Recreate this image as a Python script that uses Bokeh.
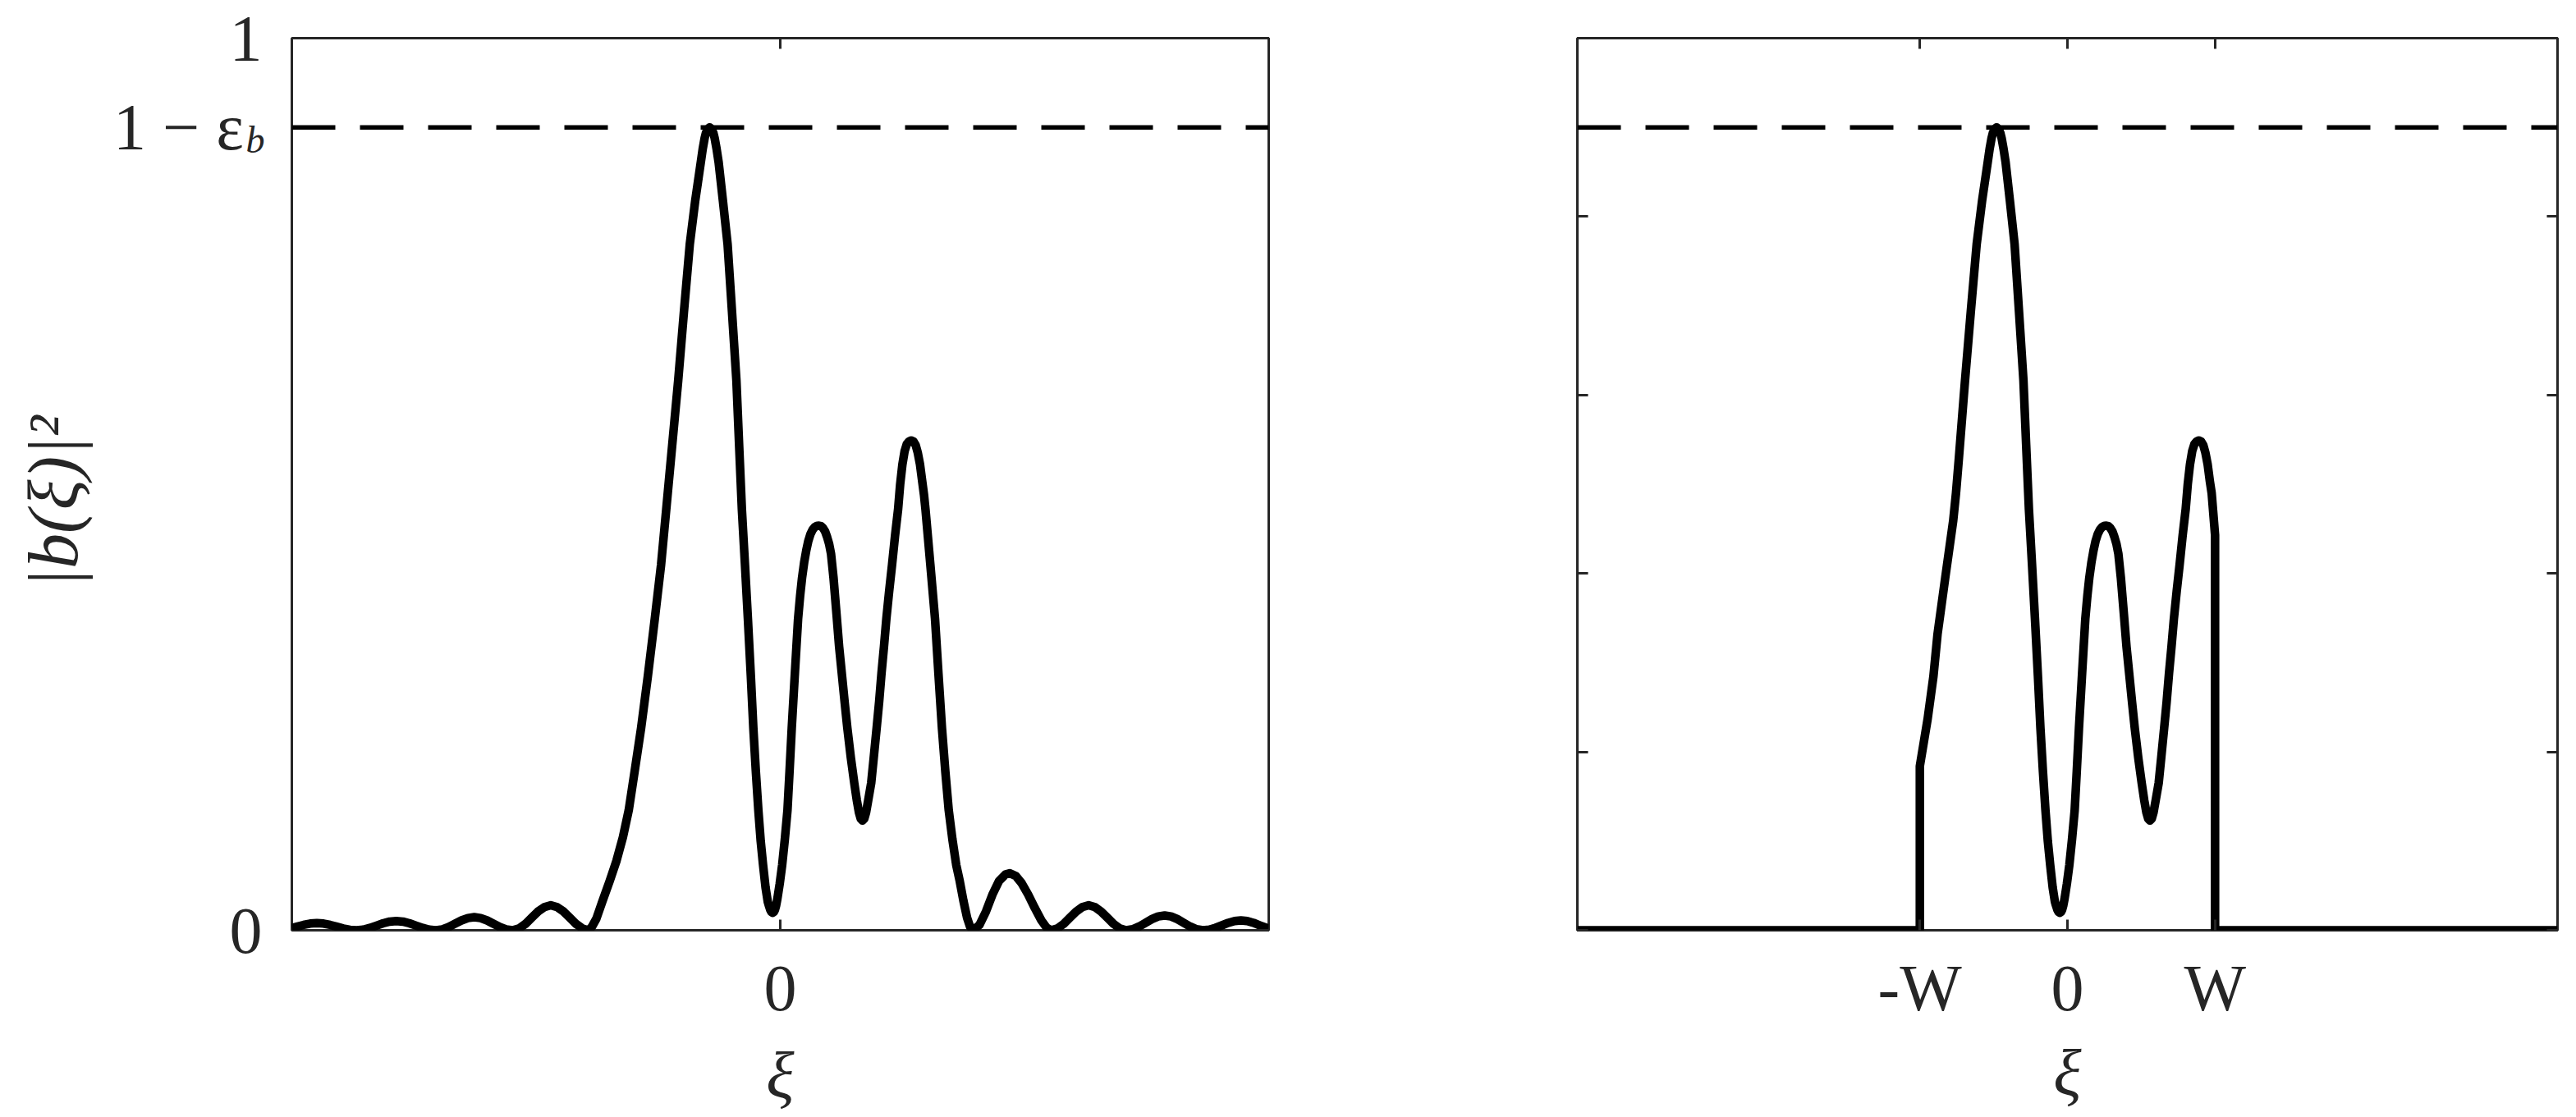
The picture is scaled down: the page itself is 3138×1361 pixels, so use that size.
from bokeh.plotting import figure
from bokeh.layouts import row
from bokeh.models import LinearAxis, FixedTicker, Range1d, Span
from bokeh.embed import file_html
from bokeh.resources import INLINE

# ---------------- data ----------------
# xi in units of W ; |b(xi)|^2
xi_full = [
    # side lobes, left
    -3.32, -3.285, -3.24, -3.195, -3.15, -3.105, -3.06, -3.015, -2.97, -2.925, -2.88,
    -2.835, -2.79, -2.745, -2.70, -2.655, -2.61, -2.565, -2.52, -2.475, -2.43, -2.385, -2.34,
    -2.297, -2.253, -2.21, -2.167, -2.123, -2.08, -2.037, -1.993, -1.95, -1.907, -1.863, -1.82,
    -1.777, -1.733, -1.69, -1.647, -1.603, -1.56, -1.517, -1.473, -1.43, -1.387, -1.343, -1.303,
    # main lobes
    -1.28, -1.25, -1.21, -1.16, -1.114, -1.07, -1.03, -0.99, -0.946, -0.90,
    -0.853, -0.81, -0.775, -0.735, -0.694, -0.655, -0.615, -0.578, -0.54, -0.527,
    -0.514, -0.505, -0.493, -0.48, -0.467, -0.455, -0.446, -0.433, -0.419, -0.39,
    -0.358, -0.328, -0.298, -0.28, -0.261, -0.24, -0.22, -0.20, -0.183, -0.166,
    -0.149, -0.133, -0.117, -0.10, -0.085, -0.076, -0.068, -0.06, -0.052, -0.044,
    -0.036, -0.028, -0.02, -0.004, 0.013, 0.031, 0.049, 0.063, 0.078, 0.10,
    0.121, 0.135, 0.148, 0.163, 0.177, 0.19, 0.205, 0.22, 0.235, 0.25,
    0.264, 0.278, 0.29, 0.305, 0.318, 0.332, 0.345, 0.362, 0.382, 0.40,
    0.42, 0.438, 0.456, 0.48, 0.503, 0.52, 0.535, 0.547, 0.559, 0.571,
    0.583, 0.598, 0.618, 0.635, 0.655, 0.672, 0.688, 0.705, 0.721, 0.74,
    0.76, 0.78, 0.801, 0.815, 0.83, 0.845, 0.86, 0.875, 0.89, 0.905,
    0.92, 0.935, 0.95, 0.965, 0.977, 0.987, 1.02, 1.052, 1.075, 1.099,
    1.122, 1.145, 1.17, 1.196, 1.22, 1.245, 1.27, 1.29, 1.31,
    # side lobes, right
    1.354, 1.398, 1.442, 1.486, 1.53, 1.56, 1.60, 1.64, 1.685, 1.73, 1.775, 1.81, 1.84,
    1.883, 1.925, 1.968, 2.011, 2.053, 2.096, 2.139, 2.181, 2.224, 2.267, 2.309, 2.352,
    2.395, 2.439, 2.482, 2.526, 2.569, 2.613, 2.656, 2.699, 2.743, 2.786, 2.830, 2.873,
    2.916, 2.959, 3.002, 3.045, 3.088, 3.131, 3.174, 3.217, 3.26, 3.303, 3.32,
]
b2_full = [
    0.0025, 0.004, 0.006, 0.0075, 0.008, 0.0075, 0.006, 0.004, 0.002, 0.0005, 0.0,
    0.0007, 0.0026, 0.0052, 0.0078, 0.0097, 0.0104, 0.0097, 0.0078, 0.0052, 0.0026, 0.0007, 0.0,
    0.001, 0.0037, 0.0074, 0.011, 0.0137, 0.0147, 0.0137, 0.011, 0.0074, 0.0037, 0.001, 0.0,
    0.0019, 0.007, 0.014, 0.021, 0.026, 0.028, 0.026, 0.021, 0.014, 0.007, 0.0019, 0.0,
    0.004, 0.013, 0.032, 0.055, 0.0775, 0.104, 0.1346, 0.178, 0.2266, 0.285,
    0.349, 0.41, 0.472, 0.543, 0.616, 0.693, 0.769, 0.818, 0.861, 0.876,
    0.888, 0.894, 0.898, 0.900, 0.898, 0.894, 0.888, 0.876, 0.861, 0.818,
    0.769, 0.693, 0.616, 0.545, 0.472, 0.41, 0.349, 0.285, 0.2266, 0.178,
    0.1346, 0.100, 0.0733, 0.048, 0.032, 0.027, 0.023, 0.0205, 0.0196, 0.0205,
    0.023, 0.028, 0.035, 0.052, 0.0733, 0.102, 0.1346, 0.178, 0.2266, 0.29,
    0.349, 0.375, 0.395, 0.413, 0.426, 0.436, 0.444, 0.449, 0.452, 0.4533,
    0.4535, 0.453, 0.451, 0.447, 0.441, 0.433, 0.422, 0.395, 0.355, 0.318,
    0.285, 0.255, 0.2266, 0.193, 0.165, 0.146, 0.132, 0.125, 0.123, 0.125,
    0.132, 0.146, 0.165, 0.193, 0.2266, 0.256, 0.288, 0.318, 0.349, 0.38,
    0.41, 0.442, 0.472, 0.500, 0.522, 0.537, 0.545, 0.548, 0.549, 0.548,
    0.544, 0.535, 0.522, 0.503, 0.488, 0.472, 0.41, 0.349, 0.288, 0.2266,
    0.178, 0.1346, 0.102, 0.0733, 0.055, 0.033, 0.014, 0.004, 0.0,
    0.006, 0.021, 0.040, 0.055, 0.0625, 0.064, 0.061, 0.053, 0.040, 0.025, 0.011, 0.003, 0.0,
    0.0019, 0.007, 0.014, 0.021, 0.026, 0.028, 0.026, 0.021, 0.014, 0.007, 0.0019, 0.0,
    0.0011, 0.0042, 0.0083, 0.0125, 0.0155, 0.0166, 0.0155, 0.0125, 0.0083, 0.0042, 0.0011, 0.0,
    0.0007, 0.0028, 0.0055, 0.0083, 0.0103, 0.011, 0.0103, 0.0083, 0.0055, 0.0028, 0.002,
]

# windowed response (right panel): zero outside [-W, W]; edges read separately
xi_window_left = [-3.32, -1.0, -1.0, -0.947, -0.908, -0.880, -0.828, -0.774, -0.755, -0.735]
b2_window_left = [0.0, 0.0, 0.184, 0.237, 0.2845, 0.332, 0.395, 0.459, 0.490, 0.530]
xi_window_right = [0.977, 1.0, 1.0, 3.32]
b2_window_right = [0.490, 0.443, 0.0, 0.0]
window_inner = (-0.70, 0.97)   # part of the window that follows the full response

passband_level = 0.9          # 1 - eps_b
xi_limits = (-3.32, 3.32)
b2_limits = (0.0, 1.0)

left_xticks = [0]
left_xtick_labels = ["0"]
left_yticks = [0, 0.9, 1]
left_ytick_labels = ["0", "1 \u2212 \u03b5\u2009\u200a", "1"]
eps_sub_tick = [0.886]         # subscript "b" of 1 - eps_b, set slightly below its line
eps_sub_label = ["b"]
right_xticks = [-1, 0, 1]
right_xtick_labels = ["-W", "0", "W"]
right_yticks = [0, 0.2, 0.4, 0.6, 0.8, 1]
right_ytick_labels = ["", "", "", "", "", ""]

y_title = "|b(\u03be)|\u00b2\u2002"
x_title = "\u03be"

# ---------------- styling ----------------
INK = "#262626"
FONT = "Liberation Serif"
H = 1360
TOP = 46
BOTTOM = H - TOP - 1087


def base_fig(width, mbl, mbr):
    p = figure(width=width, height=H,
               x_range=Range1d(*xi_limits), y_range=Range1d(*b2_limits),
               output_backend="svg", toolbar_location=None,
               x_axis_location=None, y_axis_location=None,
               min_border_left=mbl, min_border_right=mbr,
               min_border_top=TOP, min_border_bottom=BOTTOM)
    p.grid.visible = False
    p.outline_line_color = INK
    p.outline_line_width = 3
    p.background_fill_color = "white"
    p.border_fill_color = "white"
    return p


def add_axis(p, place, ticks, labels, shown, standoff, ticks_visible=True,
             size="80px", style="normal"):
    ax = LinearAxis(ticker=FixedTicker(ticks=ticks, minor_ticks=[]))
    ax.major_label_overrides = {t: (l if shown else "") for t, l in zip(ticks, labels)}
    ax.axis_line_color = None
    ax.major_tick_in = 13
    ax.major_tick_out = 0
    ax.major_tick_line_color = INK if ticks_visible else None
    ax.major_tick_line_width = 3
    ax.minor_tick_line_color = None
    ax.major_label_text_font = FONT
    ax.major_label_text_color = INK
    ax.major_label_text_font_style = style
    ax.major_label_text_font_size = size if shown else "1px"
    ax.major_label_standoff = standoff if shown else 0
    p.add_layout(ax, place)
    return ax


def style_title(ax, text, size, standoff):
    ax.axis_label = text
    ax.axis_label_text_font = FONT
    ax.axis_label_text_font_style = "italic"
    ax.axis_label_text_font_size = size
    ax.axis_label_text_color = INK
    ax.axis_label_standoff = standoff


# ---------------- left panel ----------------
p1 = base_fig(1738, 355, 193)
bx = add_axis(p1, "below", left_xticks, left_xtick_labels, True, 44)
add_axis(p1, "above", left_xticks, left_xtick_labels, False, 0)
# nearest left axis: subscript b ; outer left axis: 0, 1 - eps, 1
add_axis(p1, "left", eps_sub_tick, eps_sub_label, True, 33, ticks_visible=False,
         size="46px", style="italic")
ly = add_axis(p1, "left", left_yticks, left_ytick_labels, True, -23, ticks_visible=False)
add_axis(p1, "right", left_yticks, left_ytick_labels, False, 0)
style_title(bx, x_title, "80px", 32)
style_title(ly, y_title, "86px", 22)

p1.add_layout(Span(location=passband_level, dimension="width", line_color="black",
                   line_width=5.5, line_dash="53 30"))
p1.line(xi_full, b2_full, line_color="black", line_width=10.5, line_join="round")

# ---------------- right panel ----------------
xi_window = (xi_window_left
             + [x for x in xi_full if window_inner[0] < x < window_inner[1]]
             + xi_window_right)
b2_window = (b2_window_left
             + [v for x, v in zip(xi_full, b2_full) if window_inner[0] < x < window_inner[1]]
             + b2_window_right)

p2 = base_fig(1392, 183, 15)
bx2 = add_axis(p2, "below", right_xticks, right_xtick_labels, True, 26)
add_axis(p2, "above", right_xticks, right_xtick_labels, False, 0)
add_axis(p2, "left", right_yticks, right_ytick_labels, False, 0)
add_axis(p2, "right", right_yticks, right_ytick_labels, False, 0)
style_title(bx2, x_title, "80px", 12)

p2.add_layout(Span(location=passband_level, dimension="width", line_color="black",
                   line_width=5.5, line_dash="53 30"))
p2.line(xi_window, b2_window, line_color="black", line_width=10.5, line_join="round")

layout = row(p1, p2)
open("out.html", "w").write(file_html(layout, INLINE))
